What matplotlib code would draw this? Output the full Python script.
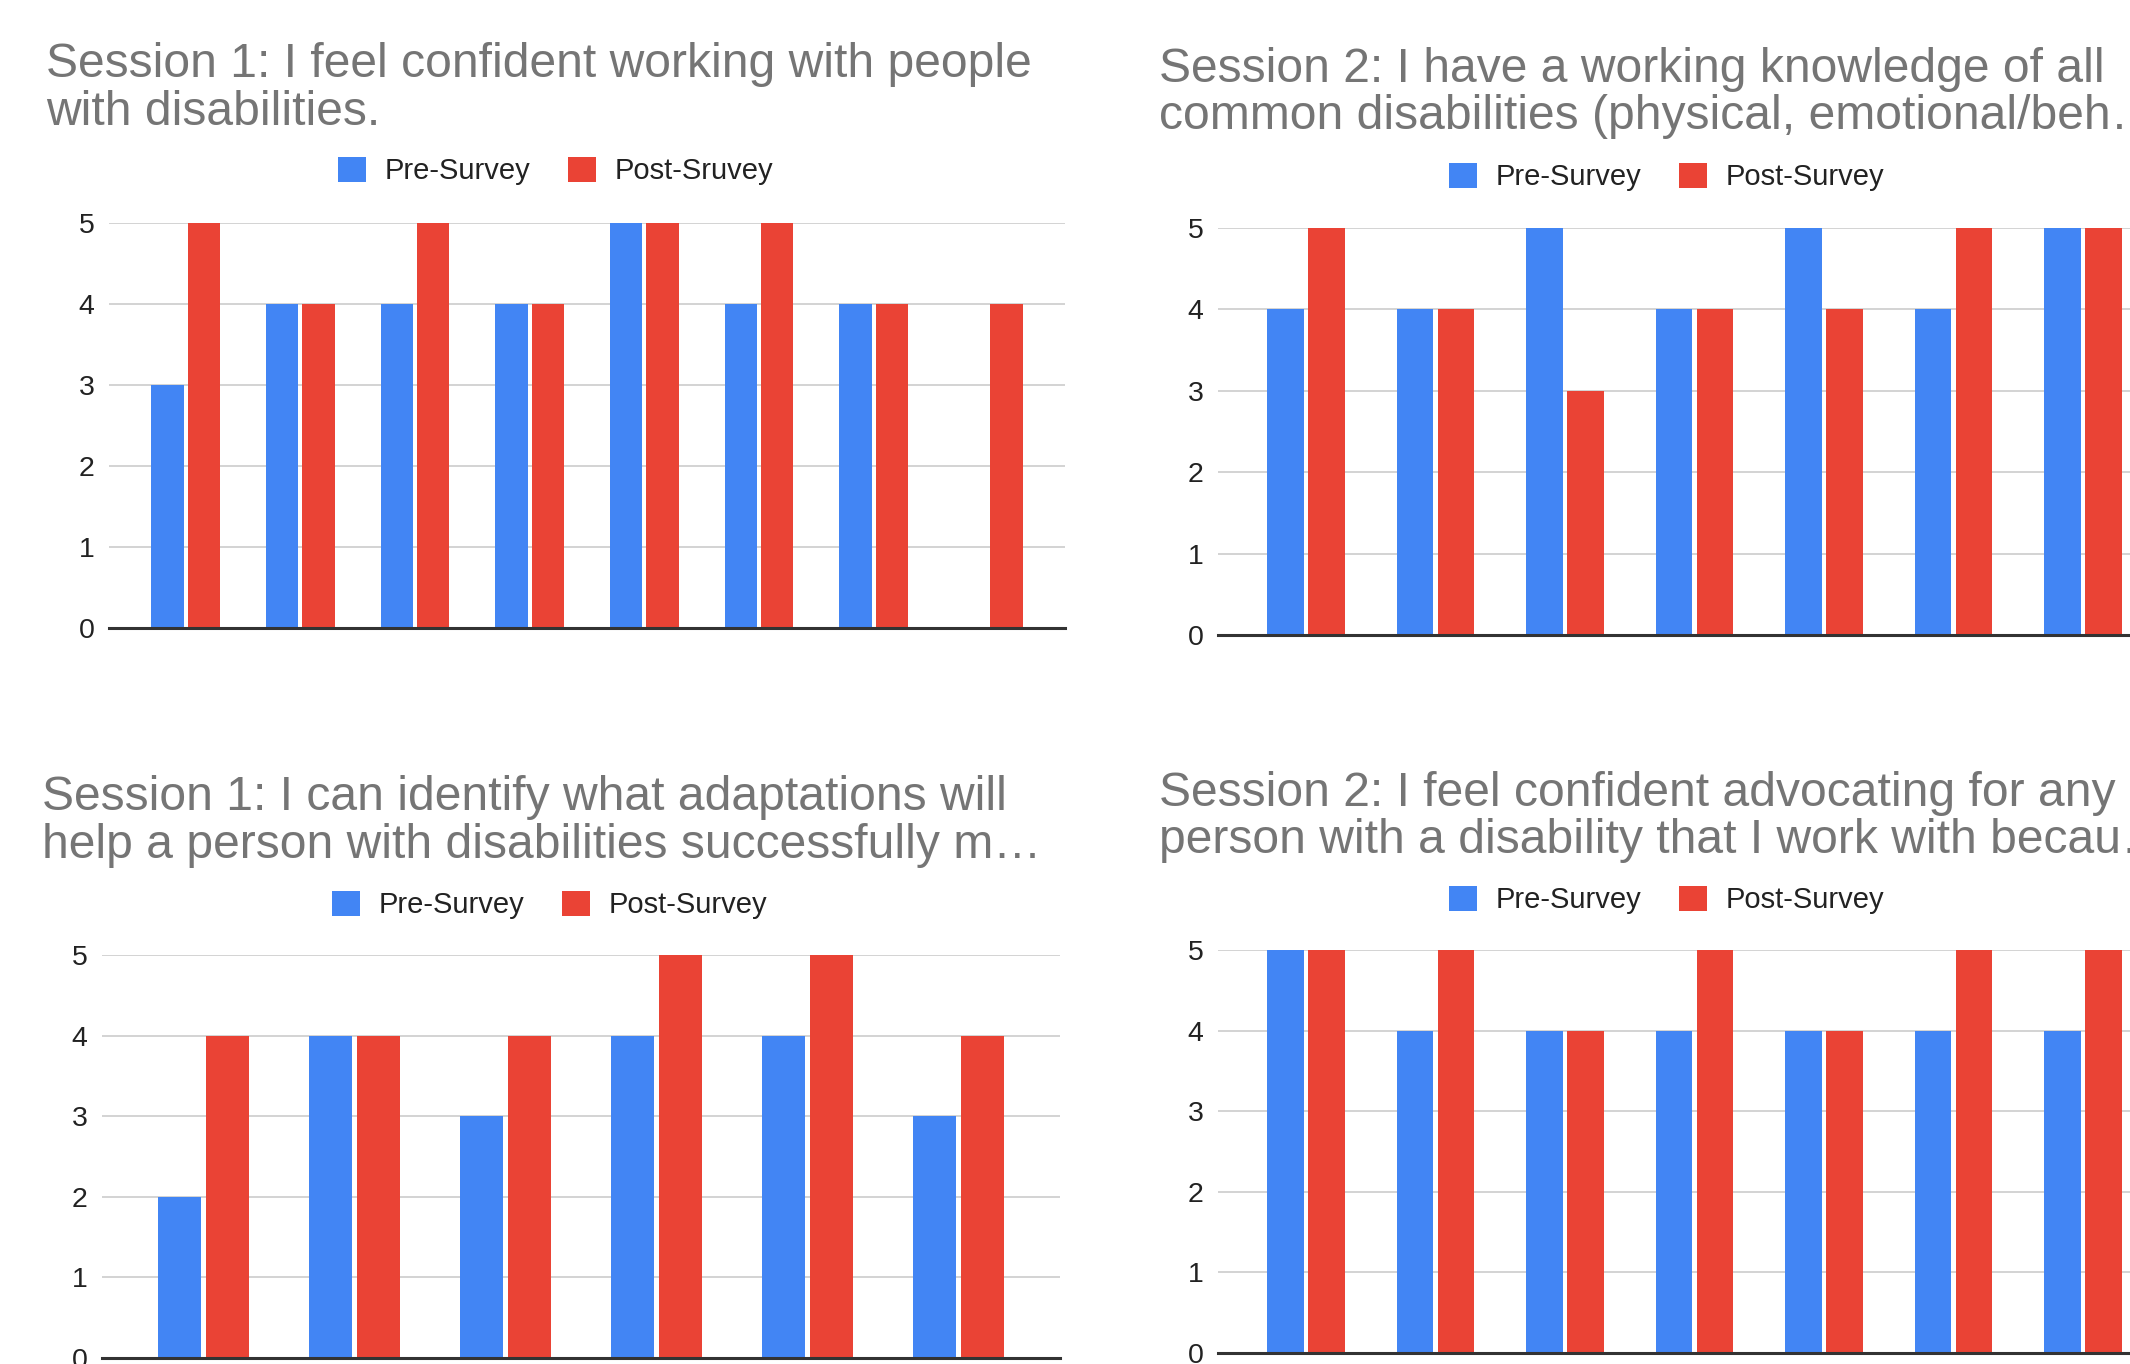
"""Four Google-Sheets style grouped bar charts: pre vs post survey answers.

Layout is a 2x2 grid cropped on the right edge (the right-hand charts run
past the canvas, as in the screenshot).  Saves out.png at 2130x1364.
"""
import matplotlib as mpl
import matplotlib.pyplot as plt
from matplotlib.patches import Patch

# --- Data -----------------------------------------------------------------
TITLE_TL = ["Session 1: I feel confident working with people",
            "with disabilities."]
TITLE_TR = ["Session 2: I have a working knowledge of all",
            "common disabilities (physical, emotional/beh\u2026"]
TITLE_BL = ["Session 1: I can identify what adaptations will",
            "help a person with disabilities successfully m\u2026"]
TITLE_BR = ["Session 2: I feel confident advocating for any",
            "person with a disability that I work with becau\u2026"]

LEGEND_TL = ["Pre-Survey", "Post-Sruvey"]
LEGEND = ["Pre-Survey", "Post-Survey"]

PRE_TL = [3, 4, 4, 4, 5, 4, 4, None]
POST_TL = [5, 4, 5, 4, 5, 5, 4, 4]

PRE_TR = [4, 4, 5, 4, 5, 4, 5]
POST_TR = [5, 4, 3, 4, 4, 5, 5]

PRE_BL = [2, 4, 3, 4, 4, 3]
POST_BL = [4, 4, 4, 5, 5, 4]

PRE_BR = [5, 4, 4, 4, 4, 4, 4]
POST_BR = [5, 5, 4, 5, 4, 5, 5]

Y_TICKS = [0, 1, 2, 3, 4, 5]

# --- Styling --------------------------------------------------------------
W, H, DPI = 2130, 1364, 100
BLUE = "#4285F4"
RED = "#EA4335"
TITLE_GRAY = "#757575"
TEXT_DARK = "#222222"
GRID = "#cccccc"

mpl.rcParams.update({
    "font.family": ["Liberation Sans", "DejaVu Sans"],
    "font.size": 20,
})

BAR_W = 0.283
BAR_GAP = 0.034
TITLE_SIZE = 34.6
LEGEND_SIZE = 21


def _fx(px):
    return px / W


def _fy(py):
    return 1 - py / H


def draw_chart(fig, title, labels, pre, post, *, left, right, y5, y0,
               margin, title_x, title_y, title_dy, legend_x, legend_y):
    n = len(post)
    ax = fig.add_axes([_fx(left), _fy(y0), _fx(right - left),
                       (y0 - y5) / H])
    off = (BAR_W + BAR_GAP) / 2
    xs = list(range(n))
    pre_x = [x - off for x, v in zip(xs, pre) if v is not None]
    pre_v = [v for v in pre if v is not None]
    ax.bar(pre_x, pre_v, width=BAR_W, color=BLUE, zorder=2)
    ax.bar([x + off for x in xs], post, width=BAR_W, color=RED, zorder=2)

    ax.set_xlim(-margin, n - 1 + margin)
    ax.set_ylim(0, 5)
    ax.set_yticks(Y_TICKS)
    ax.set_xticks([])
    ax.tick_params(axis="y", length=0, pad=10.5, labelsize=20.5,
                   labelcolor=TEXT_DARK)
    ax.yaxis.grid(True, color=GRID, linewidth=1.2, zorder=0)
    ax.set_axisbelow(True)
    for side in ("left", "right", "top"):
        ax.spines[side].set_visible(False)
    ax.spines["bottom"].set_color("#333333")
    ax.spines["bottom"].set_linewidth(2.2)
    ax.spines["bottom"].set_zorder(3)

    for i, line in enumerate(title):
        fig.text(_fx(title_x), _fy(title_y + i * title_dy), line,
                 fontsize=TITLE_SIZE, color=TITLE_GRAY, ha="left",
                 va="baseline")

    handles = [Patch(facecolor=BLUE, edgecolor="none", label=labels[0]),
               Patch(facecolor=RED, edgecolor="none", label=labels[1])]
    fig.legend(handles=handles, loc="center left",
               bbox_to_anchor=(_fx(legend_x), _fy(legend_y)),
               ncol=2, frameon=False, fontsize=LEGEND_SIZE, borderpad=0,
               borderaxespad=0, handlelength=0.95, handleheight=0.95,
               handletextpad=0.65, columnspacing=1.3, labelcolor=TEXT_DARK)
    return ax


def main():
    fig = plt.figure(figsize=(W / DPI, H / DPI), dpi=DPI)
    fig.patch.set_facecolor("white")

    draw_chart(fig, TITLE_TL, LEGEND_TL, PRE_TL, POST_TL,
               left=109, right=1065, y5=223, y0=628, margin=0.67,
               title_x=46, title_y=77, title_dy=48,
               legend_x=338, legend_y=171)
    draw_chart(fig, TITLE_TR, LEGEND, PRE_TR, POST_TR,
               left=1218, right=2171, y5=228, y0=635, margin=0.68,
               title_x=1159, title_y=82, title_dy=47,
               legend_x=1449, legend_y=177)
    draw_chart(fig, TITLE_BL, LEGEND, PRE_BL, POST_BL,
               left=102, right=1060, y5=955, y0=1358, margin=0.67,
               title_x=42, title_y=810, title_dy=48,
               legend_x=332, legend_y=905)
    draw_chart(fig, TITLE_BR, LEGEND, PRE_BR, POST_BR,
               left=1218, right=2171, y5=950, y0=1353, margin=0.68,
               title_x=1159, title_y=806, title_dy=47,
               legend_x=1449, legend_y=900)

    fig.savefig("out.png", dpi=DPI)
    plt.close(fig)


if __name__ == "__main__":
    main()
